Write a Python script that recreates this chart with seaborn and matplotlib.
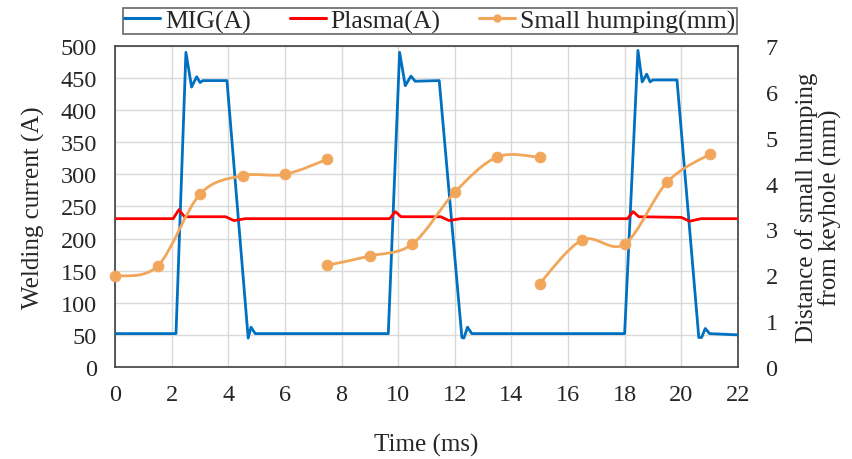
import numpy as np
import pandas as pd
import matplotlib.pyplot as plt
import seaborn as sns
from matplotlib.path import Path
from matplotlib.patches import PathPatch
from matplotlib.lines import Line2D

# Data

# MIG current (A), key points of the pulsed waveform
mig_time = [0, 2.15, 2.5, 2.7, 2.88, 3.0, 3.1, 3.95, 4.7, 4.8, 4.95,
            9.65, 10.05, 10.25, 10.45, 10.6, 11.45, 12.25, 12.32, 12.45, 12.6,
            18.0, 18.47, 18.62, 18.78, 18.9, 19.0, 19.85, 20.62, 20.72, 20.85, 21.0, 22.0]
mig_current = [52, 52, 490, 436, 452, 443, 446, 446, 45, 62, 52,
               52, 490, 438, 453, 445, 446, 46, 45, 62, 52,
               52, 493, 444, 456, 444, 447, 447, 46, 46, 60, 52, 50]

# Plasma current (A)
plasma_time = [0, 2.05, 2.25, 2.45, 3.9, 4.2, 4.6, 9.7, 9.9, 10.1, 11.5, 11.8, 12.2,
               18.1, 18.3, 18.5, 20.0, 20.3, 20.7, 22.0]
plasma_current = [231, 231, 245, 234, 234, 228, 231, 231, 242, 234, 234, 228, 231,
                  231, 242, 234, 233, 227, 231, 231]

# Small humping distance (mm), three groups
hump_time_1 = [0, 1.5, 3.0, 4.5, 6.0, 7.5]
hump_dist_1 = [1.98, 2.2, 3.77, 4.17, 4.2, 4.53]
hump_time_2 = [7.5, 9.0, 10.5, 12.0, 13.5, 15.0]
hump_dist_2 = [2.22, 2.42, 2.68, 3.81, 4.58, 4.57]
hump_time_3 = [15.0, 16.5, 18.0, 19.5, 21.0]
hump_dist_3 = [1.82, 2.77, 2.68, 4.03, 4.64]

x_ticks = list(range(0, 23, 2))
left_ticks = list(range(0, 501, 50))
right_ticks = list(range(0, 8))

blue = '#0070C0'
red = '#FF0000'
orange = '#F2A65A'

sns.set_style('white')
plt.rcParams['font.family'] = ['Liberation Serif', 'DejaVu Serif']

fig = plt.figure(figsize=(8.53, 4.6), dpi=100)
ax = fig.add_axes([0.135, 0.2, 0.73, 0.698])

mig_df = pd.DataFrame({'t': mig_time, 'I': mig_current})
plasma_df = pd.DataFrame({'t': plasma_time, 'I': plasma_current})

sns.lineplot(data=mig_df, x='t', y='I', ax=ax, color=blue, lw=2.0,
             sort=False, estimator=None, zorder=3)
sns.lineplot(data=plasma_df, x='t', y='I', ax=ax, color=red, lw=2.0,
             sort=False, estimator=None, zorder=4)

ax.set_xlim(0, 22)
ax.set_ylim(0, 500)
ax.set_xticks(x_ticks)
ax.set_yticks(left_ticks)
ax.grid(True, color='#d9d9d9', lw=1.0)
ax.set_axisbelow(True)
ax.tick_params(axis='x', length=0, labelsize=17.5, pad=12)
ax.tick_params(axis='y', length=0, labelsize=17.5, pad=13)
ax.set_xlabel('Time (ms)', fontsize=18, labelpad=20)
ax.set_ylabel('Welding current (A)', fontsize=18, labelpad=11)
for s in ax.spines.values():
    s.set_color('#404040')
    s.set_linewidth(1.2)

ax2 = ax.twinx()
ax2.set_ylim(0, 7)
ax2.set_yticks(right_ticks)
ax2.tick_params(length=0, labelsize=17.5, pad=20)
ax2.set_ylabel('Distance of small humping\nfrom keyhole (mm)', fontsize=18,
               labelpad=12, linespacing=1.05)
ax2.yaxis.label.set_multialignment('center')
for s in ax2.spines.values():
    s.set_visible(False)


def smooth_path(xs, ys):
    # Excel style smoothed line: cubic Bezier through the points
    px = [xs[0]] + list(xs) + [xs[-1]]
    py = [ys[0]] + list(ys) + [ys[-1]]
    verts = [(xs[0], ys[0])]
    codes = [Path.MOVETO]
    for i in range(1, len(px) - 2):
        c1 = (px[i] + (px[i + 1] - px[i - 1]) / 6, py[i] + (py[i + 1] - py[i - 1]) / 6)
        c2 = (px[i + 1] - (px[i + 2] - px[i]) / 6, py[i + 1] - (py[i + 2] - py[i]) / 6)
        verts += [c1, c2, (px[i + 1], py[i + 1])]
        codes += [Path.CURVE4] * 3
    return Path(verts, codes)


for xs, ys in [(hump_time_1, hump_dist_1), (hump_time_2, hump_dist_2),
               (hump_time_3, hump_dist_3)]:
    ax2.add_patch(PathPatch(smooth_path(xs, ys), fc='none', ec=orange, lw=2.0,
                            zorder=5, clip_on=False))
    sns.scatterplot(x=xs, y=ys, ax=ax2, color=orange, s=60, edgecolor=orange,
                    zorder=6, clip_on=False)

handles = [Line2D([], [], color=blue, lw=2.2),
           Line2D([], [], color=red, lw=2.2),
           Line2D([], [], color=orange, lw=2.2, marker='o', ms=5)]
labels = ['MIG(A)', 'Plasma(A)', 'Small humping(mm)']
leg = fig.legend(handles, labels, loc='lower left', ncol=3, mode='expand',
                 bbox_to_anchor=(0.144, 0.924, 0.72, 0.058), fontsize=18.5,
                 frameon=True, fancybox=False, edgecolor='#404040',
                 handlelength=1.4, handletextpad=0.2, borderpad=0.05,
                 borderaxespad=0)
leg.get_frame().set_linewidth(1.2)

fig.savefig('out.png', dpi=100)
